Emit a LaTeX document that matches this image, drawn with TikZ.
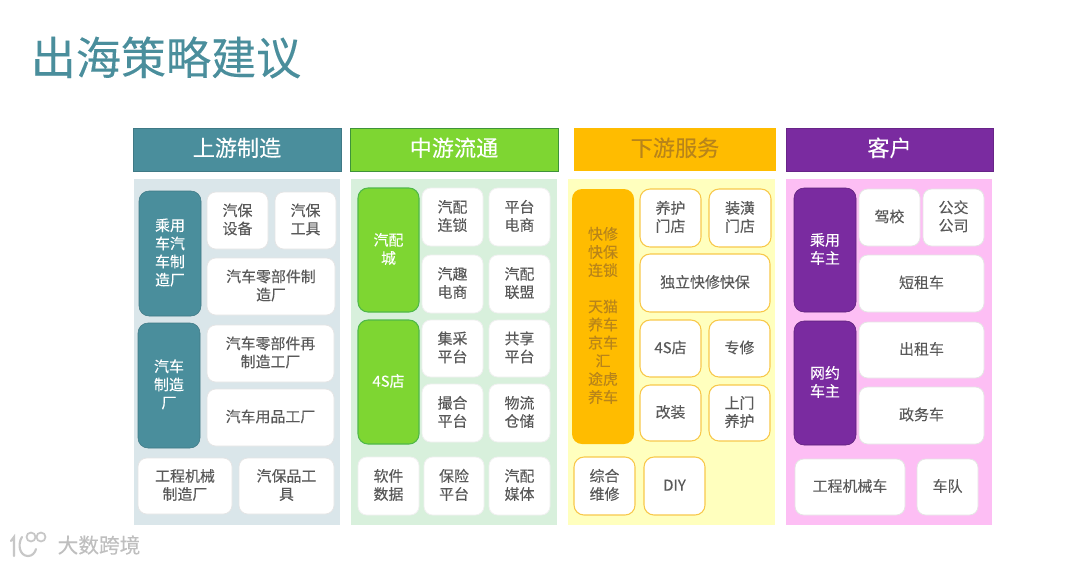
\documentclass[tikz,border=0pt]{standalone}
\usepackage{fontspec}
\setmainfont[FakeBold=0.12]{Noto Sans CJK SC}
\definecolor{teal}{HTML}{4A8E9C}
\definecolor{tealpanel}{HTML}{DAE6EA}
\definecolor{grn}{HTML}{7ED632}
\definecolor{grnedge}{HTML}{4FB848}
\definecolor{grnpanel}{HTML}{D8F0DC}
\definecolor{org}{HTML}{FFBC00}
\definecolor{orgtext}{HTML}{B8841A}
\definecolor{orgpanel}{HTML}{FFFFBE}
\definecolor{orgedge}{HTML}{F8C84A}
\definecolor{pur}{HTML}{7A2BA0}
\definecolor{purpanel}{HTML}{FDBEF4}
\definecolor{txt}{HTML}{595959}
\tikzset{
  x=0.75pt,y=-0.75pt,
  every node/.style={inner sep=0pt,outer sep=0pt,align=center,font=\fontsize{11.2pt}{13.6pt}\selectfont},
  headerbox/.style={font=\fontsize{16.6pt}{18pt}\selectfont},
  tealhead/.style={headerbox,fill=teal,draw=teal!85!black,text=white},
  grnhead/.style={headerbox,fill=grn,draw=grnedge!80!black,text=white},
  orghead/.style={headerbox,fill=org,text=orgtext},
  purhead/.style={headerbox,fill=pur,draw=pur!85!black,text=white},
  panelbox/.style={},
  tealside/.style={rounded corners=7.5pt,fill=teal,draw=teal!85!black,text=white},
  grnside/.style={rounded corners=7.5pt,fill=grn,draw=grnedge,line width=0.8pt,text=white},
  orgside/.style={rounded corners=7.5pt,fill=org,text=orgtext},
  purside/.style={rounded corners=7.5pt,fill=pur,draw=pur!75!black,text=white},
  card/.style={rounded corners=6.5pt,fill=white,text=txt},
  tealcard/.style={card,draw=black!10,line width=0.6pt},
  grncard/.style={card,draw=black!6,line width=0.6pt},
  orgcard/.style={card,draw=orgedge,line width=0.8pt,rounded corners=7.5pt},
  purcard/.style={card,draw=black!10,line width=0.6pt},
  logostroke/.style={black!22,line width=1.6pt,line cap=round},
}
% \bx{name}{x0}{y0}{x1}{y1}{style}{text}
\newcommand{\bx}[7]{%
  \pgfmathsetmacro{\bxw}{(#4-#2)*0.75}%
  \pgfmathsetmacro{\bxh}{(#5-#3)*0.75}%
  \node[#6,minimum width=\bxw pt,minimum height=\bxh pt] (#1) at ({(#2+#4)/2},{(#3+#5)/2}) {\raisebox{-0.75pt}[\height][\depth]{\begin{tabular}{@{}c@{}}#7\end{tabular}}};%
}
\begin{document}
\begin{tikzpicture}
\useasboundingbox (0,0) rectangle (1080,565);
\fill[white] (0,0) rectangle (1080,565);
\node[text=teal,font=\fontsize{33.8pt}{36pt}\selectfont] (title) at (166,57.5) {出海策略建议};

% column 1
\bx{h1}{133}{128}{341}{171}{tealhead}{上游制造}
\bx{p1}{134}{179}{340}{525}{panelbox,fill=tealpanel}{}
\bx{a1}{139}{191}{201}{316}{tealside}{乘用\\车汽\\车制\\造厂}
\bx{a2}{207}{192}{268}{249}{tealcard}{汽保\\设备}
\bx{a3}{275}{192}{336}{249}{tealcard}{汽保\\工具}
\bx{a4}{207}{258}{335}{315}{tealcard}{汽车零部件制\\造厂}
\bx{a5}{138}{323}{200}{448}{tealside}{汽车\\制造\\厂}
\bx{a6}{207}{325}{334}{382}{tealcard}{汽车零部件再\\制造工厂}
\bx{a7}{207}{389}{334}{446}{tealcard}{汽车用品工厂}
\bx{a8}{138}{458}{232}{514}{tealcard}{工程机械\\制造厂}
\bx{a9}{239}{458}{334}{514}{tealcard}{汽保品工\\具}

% column 2
\bx{h2}{350}{128}{558}{171}{grnhead}{中游流通}
\bx{p2}{351}{179}{557}{525}{panelbox,fill=grnpanel}{}
\bx{b1}{358}{188}{419}{312}{grnside}{汽配\\城}
\bx{b2}{422}{188}{483}{246}{grncard}{汽配\\连锁}
\bx{b3}{489}{188}{550}{246}{grncard}{平台\\电商}
\bx{b4}{422}{255}{483}{313}{grncard}{汽趣\\电商}
\bx{b5}{489}{255}{550}{313}{grncard}{汽配\\联盟}
\bx{b6}{358}{320}{419}{444}{grnside}{4S店}
\bx{b7}{422}{320}{483}{377}{grncard}{集采\\平台}
\bx{b8}{489}{320}{550}{377}{grncard}{共享\\平台}
\bx{b9}{422}{384}{483}{442}{grncard}{撮合\\平台}
\bx{b10}{489}{384}{550}{442}{grncard}{物流\\仓储}
\bx{b11}{358}{457}{419}{515}{grncard}{软件\\数据}
\bx{b12}{424}{457}{484}{515}{grncard}{保险\\平台}
\bx{b13}{489}{457}{550}{515}{grncard}{汽配\\媒体}

% column 3
\bx{h3}{574}{128}{776}{171}{orghead}{下游服务}
\bx{p3}{568}{179}{775}{525}{panelbox,fill=orgpanel}{}
\bx{c1}{572}{189}{634}{444}{orgside}{快修\\快保\\连锁\\[13.6pt]天猫\\养车\\京车\\汇\\途虎\\养车}
\bx{c2}{640}{189}{701}{247}{orgcard}{养护\\门店}
\bx{c3}{709}{189}{771}{247}{orgcard}{装潢\\门店}
\bx{c4}{640}{254}{770}{312}{orgcard}{独立快修快保}
\bx{c5}{640}{320}{701}{377}{orgcard}{4S店}
\bx{c6}{709}{320}{770}{377}{orgcard}{专修}
\bx{c7}{640}{385}{701}{441}{orgcard}{改装}
\bx{c8}{709}{385}{770}{441}{orgcard}{上门\\养护}
\bx{c9}{574}{457}{635}{515}{orgcard}{综合\\维修}
\bx{c10}{644}{457}{705}{515}{orgcard}{DIY}

% column 4
\bx{h4}{786}{128}{993}{171}{purhead}{客户}
\bx{p4}{786}{179}{992}{525}{panelbox,fill=purpanel}{}
\bx{d1}{794}{188}{856}{312}{purside}{乘用\\车主}
\bx{d2}{859}{189}{920}{246}{purcard}{驾校}
\bx{d3}{923}{189}{984}{246}{purcard}{公交\\公司}
\bx{d4}{859}{255}{984}{312}{purcard}{短租车}
\bx{d5}{794}{321}{856}{445}{purside}{网约\\车主}
\bx{d6}{859}{322}{984}{378}{purcard}{出租车}
\bx{d7}{859}{387}{984}{444}{purcard}{政务车}
\bx{d8}{795}{459}{905}{515}{purcard}{工程机械车}
\bx{d9}{917}{459}{978}{515}{purcard}{车队}

% watermark
\node[text=black!25,font=\fontsize{15.5pt}{18pt}\selectfont] (wm) at (99,545) {大数跨境};
\draw[logostroke] (11,541) -- (14,537) -- (14,556);
\draw[logostroke] (22,537) .. controls (17,545) and (20,556) .. (28,556) .. controls (32,556) and (35,553) .. (36,549);
\draw[logostroke,line width=1.3pt] (31,537) circle[radius=4.5];
\draw[logostroke,line width=1.3pt] (41,537) circle[radius=4.5];
\end{tikzpicture}
\end{document}
